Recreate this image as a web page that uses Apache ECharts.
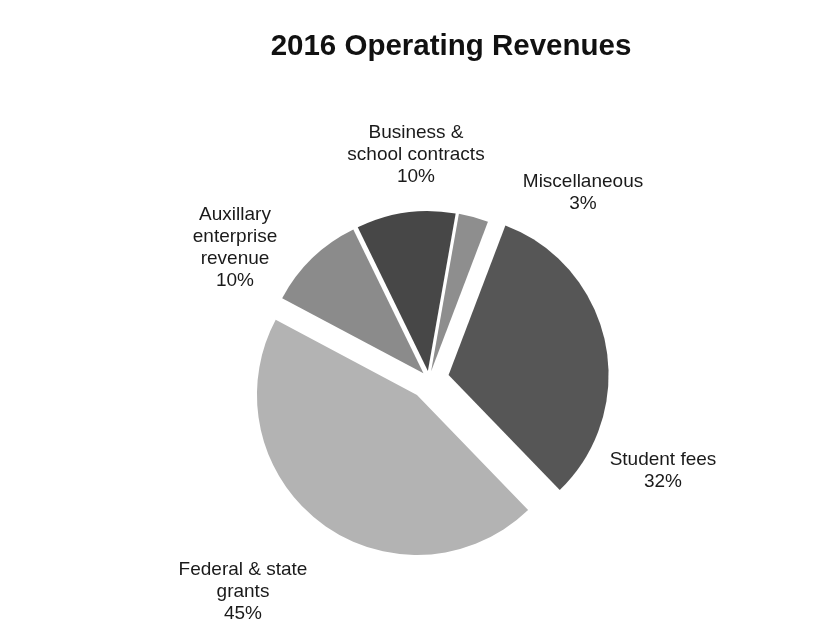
<!DOCTYPE html>
<html>
<head>
<meta charset="utf-8">
<script src="https://cdn.jsdelivr.net/npm/echarts@6/dist/echarts.min.js"></script>
<style>
html,body{margin:0;padding:0;background:#fff;}
#chart{width:835px;height:638px;}
</style>
</head>
<body>
<div id="chart"></div>
<script>
// Data (clockwise from near 12 o'clock)
var categories = ["Miscellaneous", "Student fees", "Federal & state\ngrants", "Auxillary\nenterprise\nrevenue", "Business &\nschool contracts"];
var values = [3, 32, 45, 10, 10];
var farExploded = [false, true, true, false, false];

// Styles / layout (not data)
var sliceColors = ["#8e8e8e", "#565656", "#b3b3b3", "#8b8b8b", "#474747"];
var labelCenters = [[583, 193], [663, 471], [243, 592], [235, 248], [416, 155]];
var PIE_CENTER = [429, 379];
var PIE_RADIUS = 160;
var START_ANGLE = 80;

var chart = echarts.init(document.getElementById('chart'), null, {renderer: 'canvas'});

function buildData(visibleFn, selectedFn) {
  return categories.map(function (c, i) {
    return {
      name: c,
      value: values[i],
      selected: selectedFn(i),
      itemStyle: {color: visibleFn(i) ? sliceColors[i] : 'rgba(0,0,0,0)'}
    };
  });
}

var basePie = {
  type: 'pie',
  center: PIE_CENTER,
  radius: PIE_RADIUS,
  startAngle: START_ANGLE,
  clockwise: true,
  silent: true,
  emphasis: {disabled: true},
  itemStyle: {borderWidth: 0},
  labelLine: {show: false}
};

chart.setOption({
  backgroundColor: '#ffffff',
  animation: false,
  title: {
    text: '2016 Operating Revenues',
    left: 446,
    top: 27,
    textAlign: 'center',
    textStyle: {fontFamily: 'Liberation Sans', fontWeight: 'bold', fontSize: 29.5, color: '#111'}
  },
  series: [
    // slightly exploded slices
    Object.assign({}, basePie, {
      selectedMode: 'multiple',
      selectedOffset: 8,
      label: {show: false},
      data: buildData(function (i) { return !farExploded[i]; }, function (i) { return !farExploded[i]; })
    }),
    // strongly exploded slices
    Object.assign({}, basePie, {
      selectedMode: 'multiple',
      selectedOffset: 20,
      label: {show: false},
      data: buildData(function (i) { return farExploded[i]; }, function (i) { return farExploded[i]; })
    }),
    // data labels
    Object.assign({}, basePie, {
      selectedMode: false,
      label: {
        show: true,
        position: 'outside',
        formatter: function (p) { return p.name + '\n' + p.value + '%'; },
        fontFamily: 'Liberation Sans',
        fontSize: 19,
        lineHeight: 22,
        color: '#1a1a1a',
        align: 'center'
      },
      labelLayout: function (params) {
        var pos = labelCenters[params.dataIndex];
        return {x: pos[0], y: pos[1], align: 'center', verticalAlign: 'middle'};
      },
      data: buildData(function () { return false; }, function () { return false; })
    })
  ]
});
</script>
</body>
</html>
